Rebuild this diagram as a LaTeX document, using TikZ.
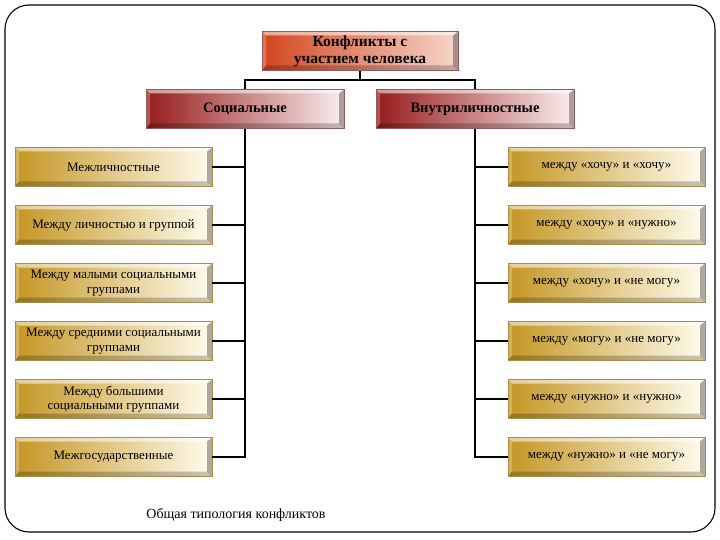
\documentclass[tikz,border=0pt]{standalone}
\usepackage{fontspec}
\setmainfont{Liberation Serif}
\definecolor{goldL}{RGB}{196,150,36}
\definecolor{goldR}{RGB}{255,252,238}
\definecolor{goldE}{RGB}{170,140,70}
\definecolor{redL}{RGB}{150,28,28}
\definecolor{redR}{RGB}{250,238,238}
\definecolor{redE}{RGB}{150,90,90}
\definecolor{topL}{RGB}{210,70,30}
\definecolor{topR}{RGB}{246,214,204}
\begin{document}
\begin{tikzpicture}[x=1pt,y=-1pt,
  bev/.style={path picture={
    \path (path picture bounding box.north west) coordinate (bnw)
          (path picture bounding box.north east) coordinate (bne)
          (path picture bounding box.south east) coordinate (bse)
          (path picture bounding box.south west) coordinate (bsw);
    \fill[white,opacity=0.55] (bnw) -- (bne) -- ([shift={(-5pt,-4pt)}]bne) -- ([shift={(4pt,-4pt)}]bnw) -- cycle;
    \fill[white,opacity=0.25] (bnw) -- ([shift={(4pt,-4pt)}]bnw) -- ([shift={(4pt,5pt)}]bsw) -- (bsw) -- cycle;
    \fill[black,opacity=0.22] (bsw) -- ([shift={(4pt,5pt)}]bsw) -- ([shift={(-5pt,5pt)}]bse) -- (bse) -- cycle;
    \fill[black,opacity=0.32] (bne) -- (bse) -- ([shift={(-5pt,5pt)}]bse) -- ([shift={(-5pt,-4pt)}]bne) -- cycle;
  }},
  gbox/.style={bev, minimum width=197pt, minimum height=39pt, inner sep=2pt,
    left color=goldL, right color=goldR, draw=goldE, line width=0.5pt,
    align=center, font=\fontsize{13}{14.5}\selectfont},
  rbox/.style={bev, minimum width=198pt, minimum height=39pt, inner sep=2pt,
    left color=redL, right color=redR, draw=redE, line width=0.5pt,
    align=center, font=\fontsize{14.5}{16}\selectfont\bfseries},
  tbox/.style={bev, minimum width=196pt, minimum height=39pt, inner sep=1pt,
    left color=topL, right color=topR, draw=redE, line width=0.5pt,
    align=center, font=\fontsize{15.5}{17}\selectfont\bfseries},
  conn/.style={draw=black, line width=1.8pt}
]
\useasboundingbox (0,0) rectangle (720,540);
\draw[line width=1.1pt, rounded corners=24pt] (5,5) rectangle (715,532);

\node[tbox] (top) at (360,51) {Конфликты с\\участием человека};
\node[rbox] (soc) at (245,109) {Социальные};
\node[rbox] (vn) at (475,109) {Внутриличностные};

\node[gbox] (L1) at (113.5,167) {Межличностные};
\node[gbox] (L2) at (113.5,225) {Между личностью и группой};
\node[gbox] (L3) at (113.5,283) {Между малыми социальными\\группами};
\node[gbox] (L4) at (113.5,341) {Между средними социальными\\группами};
\node[gbox] (L5) at (113.5,399) {Между большими\\социальными группами};
\node[gbox] (L6) at (113.5,457) {Межгосударственные};

\node[gbox] (R1) at (606.5,167) {между «хочу» и «хочу»};
\node[gbox] (R2) at (606.5,225) {между «хочу» и «нужно»};
\node[gbox] (R3) at (606.5,283) {между «хочу» и «не могу»};
\node[gbox] (R4) at (606.5,341) {между «могу» и «не могу»};
\node[gbox] (R5) at (606.5,399) {между «нужно» и «нужно»};
\node[gbox] (R6) at (606.5,457) {между «нужно» и «не могу»};

\coordinate (hub) at (360,80);
\draw[conn] (top.south) -- (hub);
\draw[conn] (soc.north) |- (hub) -| (vn.north);

\draw[conn] (soc.south) -- (soc.south |- L6.east) -- (L6.east);
\foreach \i in {1,...,5} \draw[conn] (L\i.east) -- (soc.south |- L\i.east);
\draw[conn] (vn.south) -- (vn.south |- R6.west) -- (R6.west);
\foreach \i in {1,...,5} \draw[conn] (R\i.west) -- (vn.south |- R\i.west);

\node[font=\fontsize{14}{15}\selectfont] (cap) at (236,515) {Общая типология конфликтов};
\end{tikzpicture}
\end{document}
